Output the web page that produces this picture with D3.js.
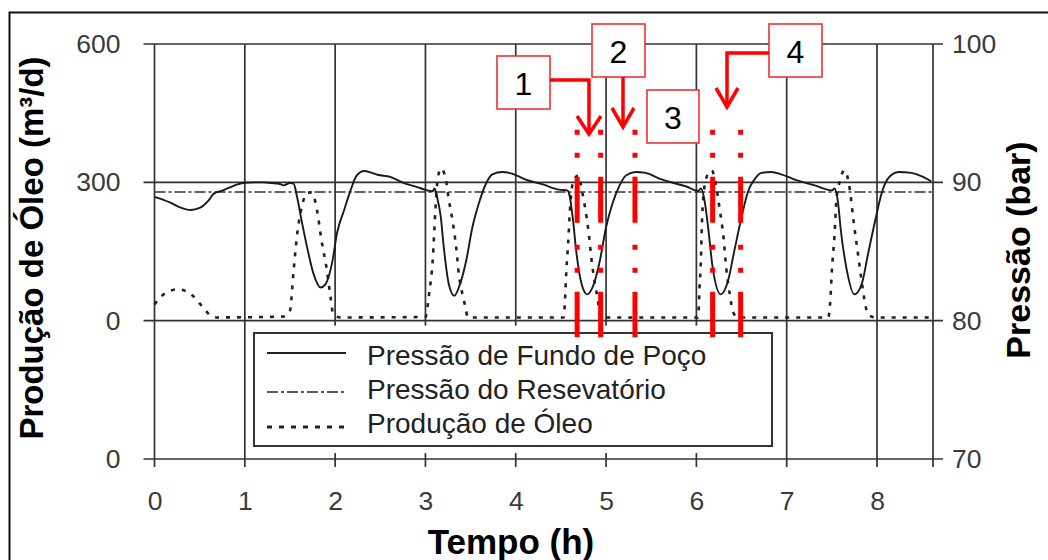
<!DOCTYPE html>
<html>
<head>
<meta charset="utf-8">
<script src="https://cdn.jsdelivr.net/npm/d3@7"></script>
<style>
  html, body { margin: 0; padding: 0; background: #fff; }
  svg { display: block; font-family: "Liberation Sans", Arial, sans-serif; }
</style>
</head>
<body>
<svg id="chart" width="1048" height="560"></svg>
<script>
// Time axis (hours)
const hourTicks = [0, 1, 2, 3, 4, 5, 6, 7, 8];
const leftTicks = [600, 300, 0, -300];
const leftTickLabels = ["600", "300", "0", "0"];
const rightTicks = [100, 90, 80, 70];

// Bottom-hole pressure (bar)
const bhpTime = [0, 0.17, 0.3, 0.4, 0.5, 0.6, 0.66, 0.75, 0.84, 0.92, 1.0, 1.1, 1.2, 1.3, 1.38, 1.43, 1.5, 1.54,
  1.58, 1.63, 1.69, 1.76, 1.84, 1.89, 1.97, 2.02, 2.1, 2.17, 2.24, 2.32, 2.4, 2.47, 2.61, 2.76, 2.91, 3.0, 3.08,
  3.1, 3.13, 3.17, 3.2, 3.26, 3.32, 3.37, 3.45, 3.52, 3.59, 3.67, 3.74, 3.85, 3.96, 4.11, 4.3, 4.48, 4.57, 4.59,
  4.63, 4.67, 4.72, 4.79, 4.85, 4.93, 5.0, 5.07, 5.15, 5.22, 5.33, 5.44, 5.59, 5.78, 5.89, 6.02, 6.05, 6.09,
  6.13, 6.18, 6.27, 6.35, 6.42, 6.5, 6.57, 6.65, 6.72, 6.83, 6.94, 7.09, 7.31, 7.5, 7.53, 7.57, 7.6, 7.66, 7.75,
  7.83, 7.9, 7.98, 8.05, 8.12, 8.24, 8.38, 8.49, 8.6];
const bhpValue = [88.95, 88.55, 88.15, 88.0, 88.15, 88.7, 89.2, 89.4, 89.65, 89.85, 89.97, 90.0, 90.0, 89.95, 89.9,
  89.78, 89.95, 89.9, 88.9, 87.2, 85.3, 83.4, 82.4, 82.6, 84.3, 86.3, 88.0, 89.4, 90.5, 90.82, 90.7, 90.55, 90.4,
  89.95, 89.66, 89.45, 89.35, 89.55, 88.9, 87.5, 85.5, 82.6, 81.8, 82.4, 84.3, 86.75, 88.45, 89.9, 90.58, 90.75,
  90.63, 90.2, 89.85, 89.47, 89.42, 89.2, 87.5, 85.0, 82.9, 81.9, 82.4, 84.3, 86.75, 88.45, 89.78, 90.5, 90.75,
  90.68, 90.27, 89.9, 89.7, 89.37, 89.55, 88.7, 86.75, 83.85, 81.9, 82.87, 85.05, 87.48, 89.3, 90.27, 90.68,
  90.75, 90.58, 90.2, 89.78, 89.42, 89.55, 88.45, 86.5, 83.85, 81.9, 82.63, 84.8, 87.24, 89.18, 90.27, 90.75,
  90.68, 90.44, 90.07];

// Reservoir pressure (bar)
const reservoirTime = [0, 8.62];
const reservoirValue = [89.3, 89.3];

// Oil production (m³/d)
const oilTime = [0, 0.1, 0.26, 0.43, 0.54, 0.63, 0.7, 1.43, 1.5, 1.54, 1.58, 1.63, 1.69, 1.74, 1.8, 1.85, 1.91,
  1.95, 1.98, 2.06, 3.0, 3.04, 3.08, 3.11, 3.13, 3.17, 3.22, 3.26, 3.3, 3.34, 3.37, 3.41, 3.44, 3.47, 4.53,
  4.545, 4.56, 4.58, 4.6, 4.63, 4.69, 4.74, 4.8, 4.85, 4.91, 4.94, 6.02, 6.035, 6.05, 6.06, 6.08, 6.12, 6.17,
  6.22, 6.26, 6.3, 6.33, 6.37, 6.41, 6.46, 7.46, 7.48, 7.5, 7.53, 7.55, 7.59, 7.64, 7.7, 7.74, 7.79, 7.83,
  7.87, 7.9, 7.98, 8.62];
const oilValue = [35, 57, 68, 53, 28, 10, 7, 9, 22, 108, 188, 246, 277, 278, 239, 173, 108, 50, 14, 7, 8, 57, 130,
  239, 297, 330, 312, 261, 217, 159, 101, 57, 32, 7, 7, 43, 108, 167, 239, 297, 315, 275, 202, 115, 43, 7, 7, 72,
  130, 202, 275, 315, 326, 290, 239, 181, 115, 57, 17, 7, 7, 35, 108, 188, 261, 304, 326, 283, 217, 144, 86, 35,
  14, 7, 7];

// Marked instants (h) and their labels
const markerTimes = [4.68, 4.94, 5.32, 6.18, 6.49];
const markerRange = [93.8, 78.8];
const boxLabels = ["1", "2", "3", "4"];

const legendLabels = ["Pressão de Fundo de Poço", "Pressão do Resevatório", "Produção de Óleo"];

const svg = d3.select("#chart");
const gridColor = "#333";

const x = d3.scaleLinear().domain([0, 8.62]).range([154.5, 933]);
const yQ = d3.scaleLinear().domain([-300, 600]).range([459, 44]);
const yP = d3.scaleLinear().domain([70, 100]).range([459, 44]);

const xL = x.range()[0], xR = x.range()[1];
const yTop = yQ(600), yMid = yQ(0), yBot = yQ(-300);

// Outer frame
svg.append("path").attr("d", `M9.5,${570} V12.5 H${1060}`)
  .attr("fill", "none").attr("stroke", "#111").attr("stroke-width", 2);

const grid = svg.append("g").attr("stroke", gridColor).attr("stroke-width", 1.7).attr("fill", "none");

// Horizontal reference lines with ticks on both sides
leftTicks.forEach(v => {
  grid.append("line").attr("x1", xL - 11).attr("x2", xR + 10)
    .attr("y1", yQ(v)).attr("y2", yQ(v));
});

// Vertical grid lines per hour
hourTicks.forEach(h => {
  grid.append("line").attr("x1", x(h)).attr("x2", x(h)).attr("y1", yTop).attr("y2", yBot + 8);
});
grid.append("line").attr("x1", xR).attr("x2", xR).attr("y1", yTop).attr("y2", yBot + 8);

// Axes (labels)
const tickFont = g => g.selectAll("text")
  .attr("font-size", 26.5).attr("fill", "#3a3a3a").attr("font-family", "Liberation Sans, Arial, sans-serif");

svg.append("g").attr("transform", `translate(0,${yBot})`)
  .call(d3.axisBottom(x).tickValues(hourTicks).tickFormat(d3.format("d")).tickSize(0).tickPadding(32))
  .call(g => g.select(".domain").remove())
  .call(tickFont);

svg.append("g").attr("transform", `translate(${xL},0)`)
  .call(d3.axisLeft(yQ).tickValues(leftTicks).tickFormat((d, i) => leftTickLabels[i]).tickSize(0).tickPadding(34))
  .call(g => g.select(".domain").remove())
  .call(tickFont);

svg.append("g").attr("transform", `translate(${xR},0)`)
  .call(d3.axisRight(yP).tickValues(rightTicks).tickFormat(d3.format("d")).tickSize(0).tickPadding(19))
  .call(g => g.select(".domain").remove())
  .call(tickFont);

svg.selectAll(".tick line").remove();

// Series
const lineP = d3.line().x(d => x(d[0])).y(d => yP(d[1])).curve(d3.curveMonotoneX);
const lineQ = d3.line().x(d => x(d[0])).y(d => yQ(d[1])).curve(d3.curveMonotoneX);

svg.append("path").datum(reservoirTime.map((t, i) => [t, reservoirValue[i]]))
  .attr("d", lineP).attr("fill", "none").attr("stroke", "#333").attr("stroke-width", 1.6)
  .attr("stroke-dasharray", "11,3,3,3");

svg.append("path").datum(oilTime.map((t, i) => [t, oilValue[i]]))
  .attr("d", lineQ).attr("fill", "none").attr("stroke", "#222").attr("stroke-width", 2.6)
  .attr("stroke-dasharray", "4,7");

svg.append("path").datum(bhpTime.map((t, i) => [t, bhpValue[i]]))
  .attr("d", lineP).attr("fill", "none").attr("stroke", "#1a1a1a").attr("stroke-width", 1.9);

// Legend
svg.append("rect").attr("x", 247).attr("y", yMid + 5).attr("width", 532).attr("height", yBot - yMid - 11)
  .attr("fill", "#fff");
svg.append("rect").attr("x", 254).attr("y", 333).attr("width", 518).attr("height", 113)
  .attr("fill", "#fff").attr("stroke", "#333").attr("stroke-width", 2);

const legendStyles = [
  { dash: null, width: 1.9, y: 353 },
  { dash: "11,3,3,3", width: 1.6, y: 392 },
  { dash: "5,7", width: 3, y: 427 }
];
const legendBaselines = [365, 399, 433];
legendLabels.forEach((label, i) => {
  const s = legendStyles[i];
  const ln = svg.append("line").attr("x1", 267).attr("x2", 346).attr("y1", s.y).attr("y2", s.y)
    .attr("stroke", "#222").attr("stroke-width", s.width);
  if (s.dash) ln.attr("stroke-dasharray", s.dash);
  svg.append("text").attr("x", 367).attr("y", legendBaselines[i]).attr("font-size", 28)
    .attr("fill", "#222").text(label);
});

// Axis titles
svg.append("text").attr("transform", "translate(43,248) rotate(-90)").attr("text-anchor", "middle")
  .attr("font-size", 33).attr("font-weight", "bold").attr("fill", "#000")
  .text("Produção de Óleo (m³/d)");
svg.append("text").attr("transform", "translate(1030,250) rotate(-90)").attr("text-anchor", "middle")
  .attr("font-size", 34).attr("font-weight", "bold").attr("fill", "#000")
  .text("Pressão (bar)");
svg.append("text").attr("x", 511).attr("y", 554).attr("text-anchor", "middle")
  .attr("font-size", 35).attr("font-weight", "bold").attr("fill", "#000")
  .text("Tempo (h)");

// Red markers
const red = "#ff0000";
markerTimes.forEach(t => {
  svg.append("line").attr("x1", x(t)).attr("x2", x(t))
    .attr("y1", yP(markerRange[0])).attr("y2", yP(markerRange[1]))
    .attr("stroke", red).attr("stroke-width", 5)
    .attr("stroke-dasharray", "5,18,5,19,46,22");
});

const boxes = [
  { x: 497, y: 56, w: 53, h: 53 },
  { x: 592, y: 24, w: 53, h: 53 },
  { x: 647, y: 90, w: 52, h: 53 },
  { x: 769, y: 24, w: 53, h: 53 }
];
boxes.forEach((b, i) => {
  svg.append("rect").attr("x", b.x).attr("y", b.y).attr("width", b.w).attr("height", b.h)
    .attr("fill", "#fff").attr("stroke", "#f23030").attr("stroke-width", 1.6);
  svg.append("text").attr("x", b.x + b.w / 2).attr("y", b.y + b.h / 2 + 12)
    .attr("text-anchor", "middle").attr("font-size", 32).attr("fill", "#000").text(boxLabels[i]);
});

const arrows = [
  { path: "M550,80 H589 V132", head: "M577,116 L589,134 L601,116" },
  { path: "M623,77 V126", head: "M612,108 L623,127 L634,108" },
  { path: "M769,53 H727 V105", head: "M716,88 L727,107 L738,88" }
];
arrows.forEach(a => {
  svg.append("path").attr("d", a.path).attr("fill", "none").attr("stroke", red).attr("stroke-width", 3.5);
  svg.append("path").attr("d", a.head).attr("fill", "none").attr("stroke", red).attr("stroke-width", 3.5)
    .attr("stroke-linejoin", "miter");
});
</script>
</body>
</html>
